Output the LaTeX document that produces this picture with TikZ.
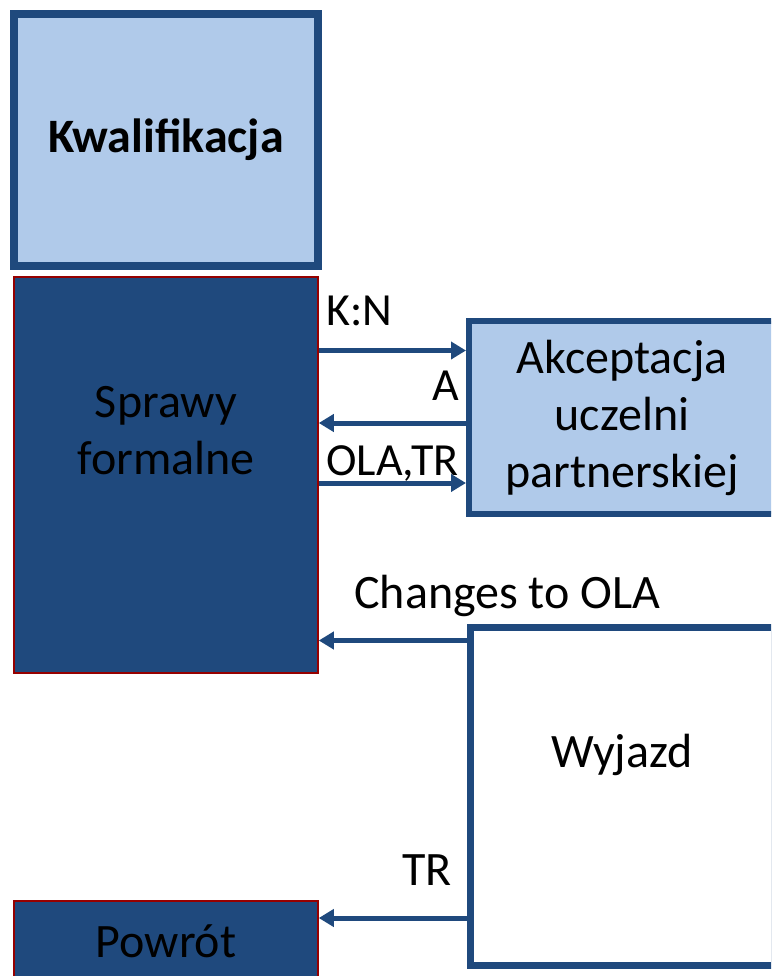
\documentclass[tikz,border=0pt]{standalone}
\usepackage{fontspec}
\setmainfont{Carlito}
\usepackage{xcolor}
\usepackage{tikz}
\usetikzlibrary{arrows.meta}

\definecolor{ciemny}{RGB}{31,73,125}
\definecolor{jasny}{RGB}{176,202,234}
\definecolor{ramka}{RGB}{150,0,0}

\begin{document}
\begin{tikzpicture}[x=1pt, y=-1pt, >={Triangle[length=15pt,width=17pt]},
  jasnyblok/.style={draw=ciemny, fill=jasny, line width=8pt, minimum width=304pt},
  ciemnyblok/.style={draw=ramka, fill=ciemny, line width=1.5pt, minimum width=304pt},
  bialyblok/.style={draw=ciemny, fill=white, line width=7pt, minimum width=304pt},
  tekst/.style={font=\fontsize{48}{57}\selectfont, align=center, inner sep=0pt},
  etykieta/.style={font=\fontsize{46}{54}\selectfont, inner sep=0pt},
  przeplyw/.style={->, draw=ciemny, line width=5pt}]
\path[use as bounding box, clip] (0,0) rectangle (771,976);

% Bloki
\node[jasnyblok, minimum height=252pt, tekst, font=\bfseries\fontsize{48}{57}\selectfont] (kwal) at (166,140) {Kwalifikacja};
\node[ciemnyblok, minimum height=396pt] (sprawy) at (166,475) {};
\node[tekst] (sprawytxt) at (166,431) {Sprawy\\formalne};
\node[jasnyblok, line width=6pt, minimum width=306pt, minimum height=193pt, tekst] (akcept) at (622,417.5) {Akceptacja\\uczelni\\partnerskiej};
\node[bialyblok, minimum height=338pt] (wyjazd) at (622,796) {};
\node[tekst, anchor=base] (wyjazdtxt) at (622,767) {Wyjazd};
\node[ciemnyblok, minimum height=80pt, tekst] (powrot) at (166,941) {Powrót};

% Punkty na krawedziach
\coordinate (kn) at ([yshift=67pt]akcept.west);
\coordinate (ap) at ([yshift=-5.5pt]akcept.west);
\coordinate (ot) at ([yshift=-65.5pt]akcept.west);
\coordinate (ch) at ([yshift=-17pt]wyjazd.north west);
\coordinate (tr) at ([yshift=-122pt]wyjazd.west);

% Przeplywy
\draw[przeplyw] (sprawy.east |- kn) -- node[etykieta, pos=0, anchor=base west, xshift=5pt, yshift=25pt] {K:N} (kn);
\draw[przeplyw] (ap) -- node[etykieta, pos=0, anchor=base east, xshift=-4pt, yshift=23pt] {A} (sprawy.east |- ap);
\draw[przeplyw] (sprawy.east |- ot) -- node[etykieta, pos=0, anchor=base west, xshift=5pt, yshift=8pt] {OLA,TR} (ot);
\draw[przeplyw] (ch) -- node[tekst, pos=1, anchor=base west, xshift=33pt, yshift=32pt] {Changes to OLA} (sprawy.east |- ch);
\draw[przeplyw] (tr) -- node[tekst, pos=0, anchor=base east, xshift=-12pt, yshift=33pt] {TR} (powrot.east |- tr);
\end{tikzpicture}
\end{document}
